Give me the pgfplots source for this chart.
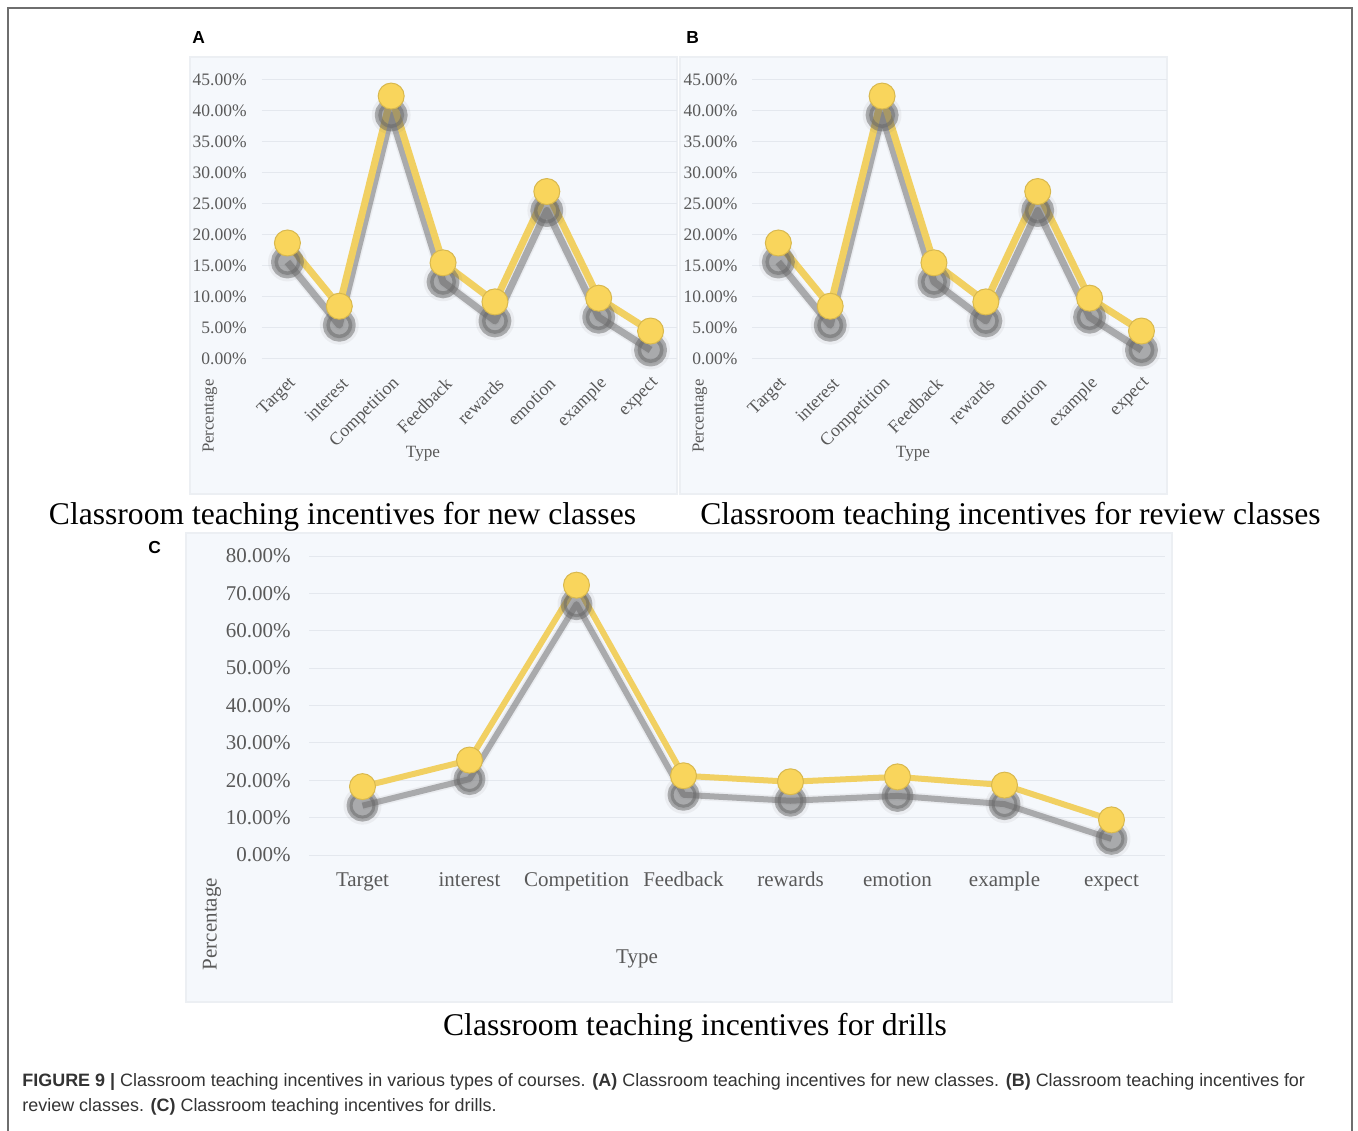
\documentclass[border=0pt]{standalone}
\usepackage{fontspec}
\setmainfont{Liberation Serif}
\newfontfamily\capfont{Liberation Sans}
\usepackage{pgfplots}
\usepackage{pgfplotstable}
\pgfplotsset{compat=1.18}

\definecolor{panelbg}{HTML}{F5F8FC}
\definecolor{panelrim}{HTML}{ECEFF3}
\definecolor{gridc}{HTML}{E4E8EE}
\definecolor{ticktext}{HTML}{595959}
\definecolor{lineY}{HTML}{F1D062}
\definecolor{markY}{HTML}{F9D55C}
\definecolor{markE}{HTML}{D8B84E}
\definecolor{shadowc}{HTML}{6A6A6A}
\definecolor{framec}{HTML}{6E6E6E}
\definecolor{capc}{HTML}{333333}

% share of each incentive type (%) per course type
\pgfplotstableread{
idx new  review drills
0   18.6 18.6   18.3
1   8.4  8.4    25.4
2   42.3 42.3   72.2
3   15.4 15.4   21.2
4   9.1  9.1    19.6
5   26.9 26.9   20.9
6   9.7  9.7    18.7
7   4.4  4.4    9.4
}\incentives

\pgfplotsset{
  incbase/.style={
    scale only axis, clip=false,
    xmin=-0.5, xmax=7.5, ymin=0,
    axis line style={draw=none},
    major tick length=0pt,
    ymajorgrids, xmajorgrids=false,
    grid style={gridc, line width=0.5pt},
    xtick={0,...,7},
    xticklabels={Target,interest,Competition,Feedback,rewards,emotion,example,expect},
  },
  smallpanel/.style={
    incbase, width=207.5pt, height=139.5pt, ymax=45,
    ytick={0,5,...,45},
    yticklabels={0.00\%,5.00\%,10.00\%,15.00\%,20.00\%,25.00\%,30.00\%,35.00\%,40.00\%,45.00\%},
    tick label style={font=\fontsize{8.75}{10}\selectfont, text=ticktext},
    yticklabel style={inner xsep=0pt, xshift=-7.25pt},
    xticklabel style={font=\fontsize{9}{10}\selectfont, rotate=45, anchor=east, xshift=-2.5pt, yshift=-10pt},
  },
  % soft outer rim of the drop shadow
  shadowA/.style={shadowc, opacity=0.08, line width=5pt, line join=round,
    mark=*, mark size=7.2pt, mark options={draw=none, fill=shadowc}, yshift=-9.5pt},
  % drop shadow body
  shadowB/.style={shadowc, opacity=0.5, line width=3.5pt, line join=round,
    mark=*, mark size=6.5pt, mark options={draw=none, fill=shadowc}, yshift=-9.5pt},
  yellowline/.style={lineY, line width=3.5pt, line join=round,
    mark=*, mark size=6.5pt, mark options={fill=markY, draw=markE, line width=0.5pt}},
}

\begin{document}
\begin{tikzpicture}[x=0.5pt, y=0.5pt]
\path[use as bounding box] (0,0) rectangle (1358,-1130);
\draw[framec, line width=0.8pt] (8,-1140) -- (8,-8) -- (1352,-8) -- (1352,-1140);

% panel backgrounds
\filldraw[fill=panelbg, draw=panelrim, line width=0.6pt] (190,-57) rectangle (677,-494);
\filldraw[fill=panelbg, draw=panelrim, line width=0.6pt] (680,-57) rectangle (1167,-494);
\filldraw[fill=panelbg, draw=panelrim, line width=0.6pt] (186,-533) rectangle (1172,-1002);

% panel letters
\node[anchor=base west, inner sep=0pt, font=\capfont\bfseries\fontsize{8.7}{10}\selectfont] at (192,-43) {A};
\node[anchor=base west, inner sep=0pt, font=\capfont\bfseries\fontsize{8.7}{10}\selectfont] at (686,-43) {B};
\node[anchor=base west, inner sep=0pt, font=\capfont\bfseries\fontsize{8.7}{10}\selectfont] at (148,-553) {C};

% (A) new classes
\begin{axis}[smallpanel, at={(130.75pt,-179.15pt)}, anchor=south west]
\addplot[shadowA] table[x=idx, y=new] {\incentives};
\addplot[shadowB] table[x=idx, y=new] {\incentives};
\addplot[yellowline] table[x=idx, y=new] {\incentives};
\end{axis}
\node[rotate=90, text=ticktext, font=\fontsize{8.4}{10}\selectfont] at (210,-416) {Percentage};
\node[text=ticktext, font=\fontsize{8.6}{10}\selectfont] at (423,-454) {Type};
\node[anchor=base, font=\fontsize{15.8}{18}\selectfont] at (342.5,-524.3) {Classroom teaching incentives for new classes};

% (B) review classes
\begin{axis}[smallpanel, at={(376.2pt,-179.15pt)}, anchor=south west]
\addplot[shadowA] table[x=idx, y=review] {\incentives};
\addplot[shadowB] table[x=idx, y=review] {\incentives};
\addplot[yellowline] table[x=idx, y=review] {\incentives};
\end{axis}
\node[rotate=90, text=ticktext, font=\fontsize{8.4}{10}\selectfont] at (700,-416) {Percentage};
\node[text=ticktext, font=\fontsize{8.6}{10}\selectfont] at (913,-454) {Type};
\node[anchor=base, font=\fontsize{15.8}{18}\selectfont] at (1010.5,-524.3) {Classroom teaching incentives for review classes};

% (C) drills
\begin{axis}[incbase, at={(154.5pt,-427.5pt)}, anchor=south west,
  width=428pt, height=149.5pt, ymax=80,
  ytick={0,10,...,80},
  yticklabels={0.00\%,10.00\%,20.00\%,30.00\%,40.00\%,50.00\%,60.00\%,70.00\%,80.00\%},
  tick label style={font=\fontsize{10.5}{12}\selectfont, text=ticktext},
  yticklabel style={inner xsep=0pt, xshift=-9pt},
  xticklabel style={text height=0.68em, text depth=0.22em, yshift=-5.3pt},
]
\addplot[shadowA, line width=4.6pt] table[x=idx, y=drills] {\incentives};
\addplot[shadowB, line width=3pt] table[x=idx, y=drills] {\incentives};
\addplot[yellowline, line width=3pt] table[x=idx, y=drills] {\incentives};
\end{axis}
\node[rotate=90, text=ticktext, font=\fontsize{10.5}{12}\selectfont] at (212,-924) {Percentage};
\node[text=ticktext, font=\fontsize{10.5}{12}\selectfont] at (637,-959) {Type};
\node[anchor=base, font=\fontsize{15.8}{18}\selectfont] at (695,-1035) {Classroom teaching incentives for drills};

% figure caption
\node[anchor=base west, inner sep=0pt, text=capc, font=\capfont\fontsize{8.97}{11}\selectfont] at (22,-1086.7)
  {\textbf{FIGURE 9 |} Classroom teaching incentives in various types of courses. \textbf{(A)} Classroom teaching incentives for new classes. \textbf{(B)} Classroom teaching incentives for};
\node[anchor=base west, inner sep=0pt, text=capc, font=\capfont\fontsize{8.97}{11}\selectfont] at (22,-1111)
  {review classes. \textbf{(C)} Classroom teaching incentives for drills.};
\end{tikzpicture}
\end{document}
